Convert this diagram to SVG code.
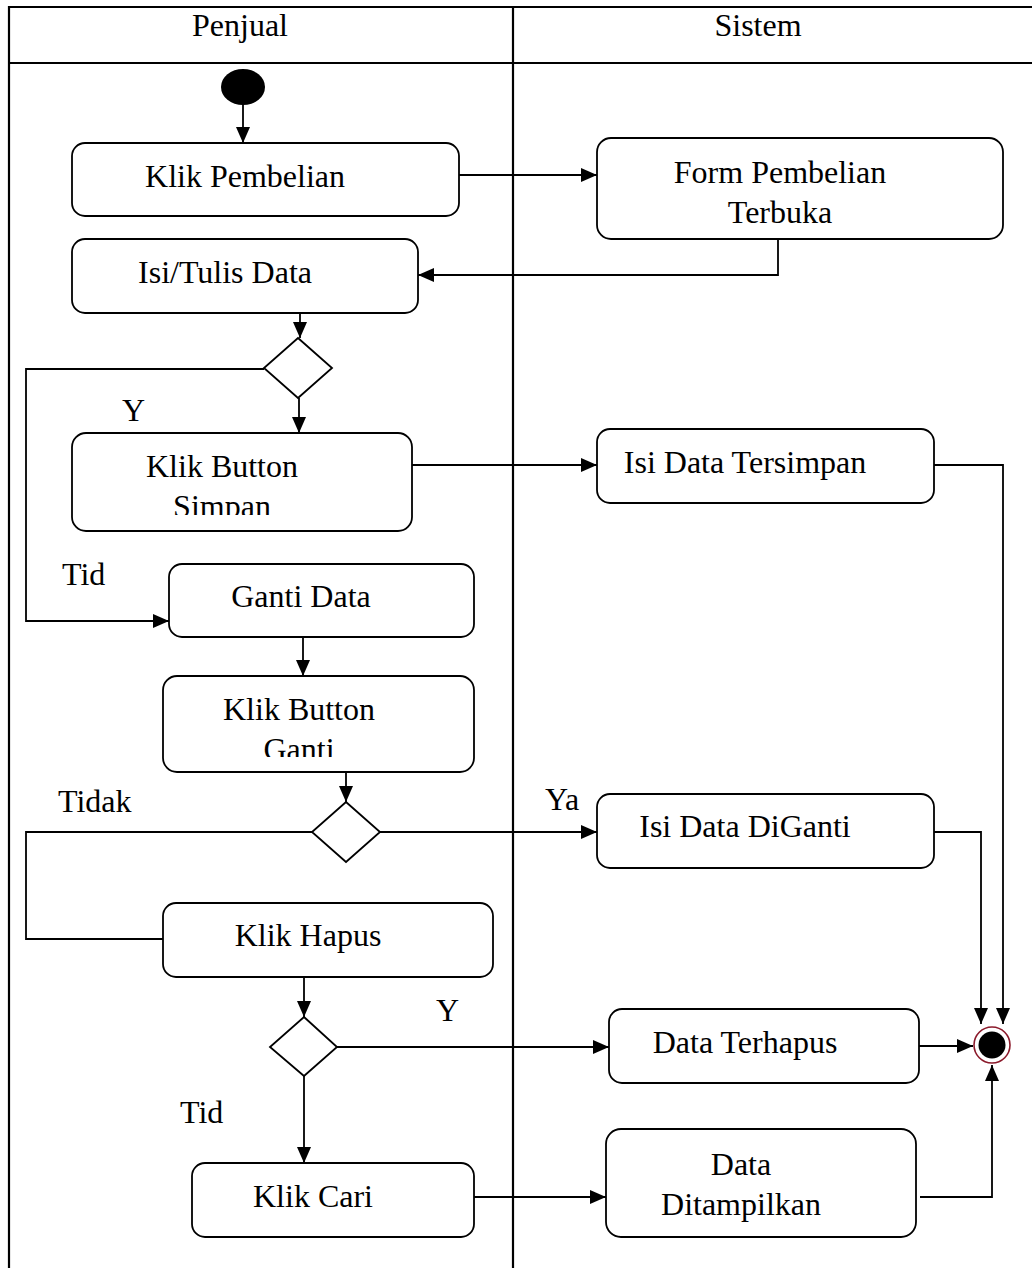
<svg xmlns="http://www.w3.org/2000/svg" width="1032" height="1268" viewBox="0 0 1032 1268">
<style>
.frame{fill:none;stroke:#000;stroke-width:2.2}
.box{fill:#fff;stroke:#000;stroke-width:1.8}
.dia{fill:#fff;stroke:#000;stroke-width:1.8}
.ln{fill:none;stroke:#000;stroke-width:1.8}
.arr{fill:none;stroke:#000;stroke-width:1.8;marker-end:url(#ah)}
text{font-family:"Liberation Serif","Times New Roman",serif;font-size:32px;fill:#000}
.c{text-anchor:middle}
</style>
<defs>
<marker id="ah" viewBox="0 0 16 14" refX="16" refY="7" markerWidth="16" markerHeight="14" markerUnits="userSpaceOnUse" orient="auto">
<path d="M0,0 L16,7 L0,14 z" fill="#000"/>
</marker>
<clipPath id="clipSimpan"><rect x="0" y="0" width="1032" height="515"/></clipPath>
<clipPath id="clipGanti"><rect x="0" y="0" width="1032" height="757"/></clipPath>
</defs>
<rect width="1032" height="1268" fill="#fff"/>

<g id="swimlanes">
<path class="frame" d="M9,1268 V7 H1032 M9,63 H1032 M513,7 V1268"/>
<text class="c" x="240" y="36">Penjual</text>
<text class="c" x="758" y="36">Sistem</text>
</g>

<g id="connectors">
<path class="arr" d="M243,105 V143"/>
<path class="arr" d="M459,175 H597"/>
<path class="arr" d="M778,239 V275 H418"/>
<path class="arr" d="M300,313 V338"/>
<path class="arr" d="M264,369 H26 V621 H169"/>
<path class="arr" d="M299,398 V433"/>
<path class="arr" d="M412,465 H597"/>
<path class="arr" d="M934,465 H1003 V1024"/>
<path class="arr" d="M303,637 V676"/>
<path class="arr" d="M346,772 V802"/>
<path class="ln" d="M312,832 H26 V939 H163"/>
<path class="arr" d="M380,832 H597"/>
<path class="arr" d="M934,832 H981 V1024"/>
<path class="arr" d="M304,977 V1017"/>
<path class="arr" d="M337,1047 H609"/>
<path class="arr" d="M304,1076 V1163"/>
<path class="arr" d="M919,1046 H973"/>
<path class="arr" d="M474,1197 H606"/>
<path class="arr" d="M920,1197 H992 V1065"/>
<text x="122" y="421">Y</text>
<text x="62" y="585">Tid</text>
<text x="58" y="812">Tidak</text>
<text x="545" y="810">Ya</text>
<text x="436" y="1021">Y</text>
<text x="180" y="1123">Tid</text>
</g>

<g id="start">
<ellipse cx="243" cy="87" rx="22" ry="18" fill="#000"/>
</g>

<g id="klik-pembelian">
<rect class="box" x="72" y="143" width="387" height="73" rx="13"/>
<text class="c" x="245" y="187">Klik Pembelian</text>
</g>

<g id="form-pembelian">
<rect class="box" x="597" y="138" width="406" height="101" rx="14"/>
<text class="c" x="780" y="183">Form Pembelian</text>
<text class="c" x="780" y="223">Terbuka</text>
</g>

<g id="isi-tulis-data">
<rect class="box" x="72" y="239" width="346" height="74" rx="13"/>
<text class="c" x="225" y="283">Isi/Tulis Data</text>
</g>

<g id="decision1">
<polygon class="dia" points="298,338 332,368 298,398 264,368"/>
</g>

<g id="klik-button-simpan">
<rect class="box" x="72" y="433" width="340" height="98" rx="14"/>
<text class="c" x="222" y="477">Klik Button</text>
<text class="c" x="222" y="517" clip-path="url(#clipSimpan)">Simpan</text>
</g>

<g id="isi-data-tersimpan">
<rect class="box" x="597" y="429" width="337" height="74" rx="13"/>
<text class="c" x="745" y="473">Isi Data Tersimpan</text>
</g>

<g id="ganti-data">
<rect class="box" x="169" y="564" width="305" height="73" rx="13"/>
<text class="c" x="301" y="607">Ganti Data</text>
</g>

<g id="klik-button-ganti">
<rect class="box" x="163" y="676" width="311" height="96" rx="14"/>
<text class="c" x="299" y="720">Klik Button</text>
<text class="c" x="299" y="760" clip-path="url(#clipGanti)">Ganti</text>
</g>

<g id="decision2">
<polygon class="dia" points="346,802 380,832 346,862 312,832"/>
</g>

<g id="isi-data-diganti">
<rect class="box" x="597" y="794" width="337" height="74" rx="13"/>
<text class="c" x="745" y="837">Isi Data DiGanti</text>
</g>

<g id="klik-hapus">
<rect class="box" x="163" y="903" width="330" height="74" rx="13"/>
<text class="c" x="308" y="946">Klik Hapus</text>
</g>

<g id="decision3">
<polygon class="dia" points="304,1017 337,1047 304,1076 270,1047"/>
</g>

<g id="data-terhapus">
<rect class="box" x="609" y="1009" width="310" height="74" rx="13"/>
<text class="c" x="745" y="1053">Data Terhapus</text>
</g>

<g id="klik-cari">
<rect class="box" x="192" y="1163" width="282" height="74" rx="13"/>
<text class="c" x="313" y="1207">Klik Cari</text>
</g>

<g id="data-ditampilkan">
<rect class="box" x="606" y="1129" width="310" height="108" rx="15"/>
<text class="c" x="741" y="1175">Data</text>
<text class="c" x="741" y="1215">Ditampilkan</text>
</g>

<g id="end">
<circle cx="992" cy="1045" r="18" fill="#fff" stroke="#8b1a2b" stroke-width="1.6"/>
<circle cx="992" cy="1045" r="13.5" fill="#000"/>
</g>
</svg>
